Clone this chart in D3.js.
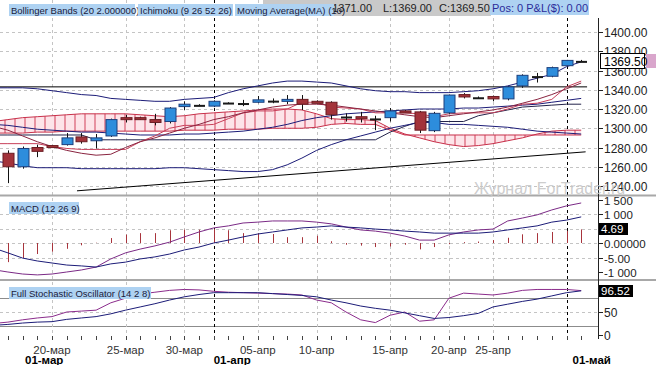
<!DOCTYPE html>
<html>
<head>
<meta charset="utf-8">
<script src="https://cdnjs.cloudflare.com/ajax/libs/d3/7.8.5/d3.min.js"></script>
<style>
body { margin: 0; background: #fff; }
svg { display: block; font-family: "Liberation Sans", Arial, sans-serif; }
</style>
</head>
<body>
<div id="chart"></div>
<script>
// bars (sunday sessions included, like the terminal shows them); first one sits just left of the frame
var dates = ["15-мар","16-мар","17-мар","18-мар","20-мар","21-мар","22-мар","23-мар","24-мар","25-мар","27-мар",
  "28-мар","29-мар","30-мар","31-мар","01-апр","03-апр","04-апр","05-апр","06-апр","07-апр",
  "08-апр","10-апр","11-апр","12-апр","13-апр","14-апр","15-апр","17-апр","18-апр","19-апр",
  "20-апр","21-апр","24-апр","25-апр","26-апр","27-апр","28-апр","29-апр","01-май","02-май"];

var open  = [1290,1274,1260,1280,1282,1283,1291,1287,1292,1311,1311,1309,1307,1322.5,1324,1323,1326.5,1326,1327,1328.5,1328,
  1330,1328,1327,1312,1312,1310,1311,1318,1317,1297.5,1316,1335,1332,1333,1330.5,1344,1354,1354,1365,1370];
var high  = [1296,1277,1281,1283,1282.5,1295,1295,1294,1310,1314,1312,1315,1322,1328,1325,1329,1327,1329.5,1333.5,1331,1334.5,
  1334.5,1329,1328,1315.5,1317,1313,1321,1319,1318,1317,1335,1336.5,1333,1334,1344,1356,1357.5,1364,1371,1371];
var low   = [1262,1243,1258,1270,1280.5,1282,1284,1279,1291,1306,1309,1303,1305,1319,1323,1322,1326,1323,1326,1326,1325,
  1319,1326,1309,1307,1306,1298,1307,1316,1295,1296,1315,1331,1331,1328,1329,1342,1347.5,1353,1364.5,1369];
var close = [1280,1260,1279,1276,1281,1290,1286,1290,1309,1309.5,1309.5,1306,1321,1325,1324.3,1328,1326.7,1326.2,1329.5,1328.7,1330,
  1325,1327,1314,1312.2,1310,1310.2,1318,1317,1298,1315.5,1334.5,1332.5,1332.2,1330.5,1343,1355,1354.2,1363,1370.5,1369.5];

// Bollinger Bands (20 2)
var bbUpper = [1342,1342,1342,1341,1339,1337,1335,1334,1331,1330,1329,1328,1328,1330,1331,1332,1337,1341,1344,1347,1349,
  1349,1348,1347,1344,1341,1339,1338,1338,1337,1337,1337,1338,1339,1341,1344,1348,1352,1356,1364,1369];
var bbMid   = [1304,1303,1301,1299,1298,1297,1296,1296,1295,1294,1293,1293,1293,1294,1294,1295,1296,1297,1299,1301,1304,
  1308,1311,1313,1315,1316,1317,1318,1319,1320,1320,1320,1321,1321,1322,1323,1324,1325,1327,1329,1331];
var bbLower = [1266,1264,1261,1259,1259,1259,1258,1258,1258,1258,1258,1258,1259,1259,1258,1257,1256,1255,1255,1257,1262,
  1269,1277,1283,1288,1292,1296,1300,1303,1306,1306,1304,1304,1303,1302,1301,1299,1297,1296,1295,1294];
// Moving Average (10)
var ma10 = [1302,1298,1292,1286,1281,1277,1274,1272,1273,1280,1286,1290,1295,1300,1304,1309,1312,1316,1319,1322,1324,
  1325,1325,1324,1322,1320,1318,1316,1314,1312,1311,1313,1315,1317,1319,1322,1326,1330,1335,1341,1347];
// Ichimoku: tenkan, kijun, cloud
var tenkan = [1284,1284,1284,1284,1281,1279,1278,1278,1278,1278,1286,1292,1300,1303,1303,1304,1310,1316,1318,1318,1320,
  1327,1327,1322,1321,1320,1316,1316,1316,1315,1312,1315,1316,1316,1316,1320,1325,1326,1330,1343,1349];
var kijun  = [1293,1293,1293,1293,1293,1293,1293,1288,1288,1288,1288,1288,1288,1288,1288,1288,1288,1288,1288,1288,1288,
  1288,1288,1288,1288,1288,1288,1296,1302,1307,1307,1307,1307,1313,1316,1319,1322,1323,1324,1325,1325];
var spanA = [1307,1309,1311,1312,1313,1314,1315,1315,1315,1315,1314,1313,1312,1313,1315,1316,1317,1318,1319,1320,1320,
  1319,1315,1310,1309,1309,1308,1300,1294,1290,1286,1283,1281,1282,1284,1287,1290,1294,1297,1298,1298];
var spanB = [1295,1295,1295,1296,1296,1297,1297,1297,1297,1297,1297,1297,1297,1298,1298,1298,1299,1299,1299,1300,1300,
  1300,1301,1304,1305,1304,1304,1298,1293,1293,1293,1293,1293,1293,1293,1293,1293,1293,1293,1293,1293];
// drawn lines
var levelLine = [{i: 0, v: 1343}, {i: 40.4, v: 1343}];
var trendLine = [{i: 5.7, v: 1235}, {i: 40.3, v: 1275.5}];

// MACD (12 26 9)
var macd   = [-9.2,-10,-10.7,-11,-10.7,-10,-9.3,-8.3,-5.5,-3.4,-2.1,-1,0.3,2.1,3.8,5.2,5.9,6.9,7.2,7.6,7.6,
  7.6,7.2,6.6,5.5,4.5,4.1,3.4,2.4,1,1,2.8,3.8,4.5,4.8,7.6,8.6,9.7,11.4,12.8,13.8];
var signal = [-1.7,-3.4,-5.2,-6.2,-6.9,-7.6,-7.9,-8.3,-7.2,-6.6,-5.5,-4.8,-3.8,-2.4,-1.4,0,1,2.1,3.1,3.8,4.5,
  5.2,5.5,5.9,5.5,5.2,4.8,4.5,4.1,3.8,3.4,3.4,3.4,3.4,3.8,4.5,5.2,5.9,7.2,7.9,9];
var hist   = [-7.5,-6.6,-5.2,-3.8,-3,-2,-0.8,0.1,1.7,2.9,3.4,3.4,4.4,4.6,4.6,4.8,4.4,3.4,3.4,3.1,2,
  2,2.5,0.6,-0.6,-0.9,-1.4,-1.2,-0.6,-2.2,-1.4,-0.4,0.3,0.5,1,1.8,3,3.4,3.8,4.2,4.69];

// Full Stochastic (14 2 8)
var stochK = [25,28,33,37,40,50,52,54,70,80,89,93,97,99,98,95,93,92,91,90,89,
  87,76,70,50,33,27,43,50,30,33,80,91,89,87,91,97,99,99,99,96.52];
var stochD = [21,23,26,28,29,34,37,40,46,54,61,68,76,83,88,92,92,92,92,90,88,
  86,83,76,70,63,58,54,48,42,36,38,42,47,61,67,73,78,85,92,96];

// axis labels
var priceTicks = [1240,1260,1280,1300,1320,1340,1360,1380,1400];
var priceLabels = ["1240.00","1260.00","1280.00","1300.00","1320.00","1340.00","1360.00","1380.00","1400.00"];
var macdTicks = [15,10,0,-5,-10];
var macdLabels = ["1 500","1 000","0.00000","-5.00","-1 000"];
var stochTicks = [50,0];
var stochLabels = ["50","0"];
var dayLabels = ["20-мар","25-мар","30-мар","05-апр","10-апр","15-апр","20-апр","25-апр"];
var monthDates = ["01-апр","01-май"];

var W = 656, H = 365, plotRight = 598;

var svg = d3.select("#chart").append("svg")
  .attr("width", W)
  .attr("height", H);

var defs = svg.append("defs");
defs.append("clipPath").attr("id", "plotClip")
  .append("rect").attr("x", 0).attr("y", 0).attr("width", plotRight).attr("height", H);
var hatch = defs.append("pattern").attr("id", "hatch")
  .attr("patternUnits", "userSpaceOnUse").attr("width", 10).attr("height", 10);
hatch.append("rect").attr("width", 10).attr("height", 10).attr("fill", "#fde4e9");
hatch.append("line").attr("x1", 5).attr("x2", 5).attr("y1", 0).attr("y2", 10)
  .attr("stroke", "#d2405a").attr("stroke-width", 1);

// scales
var x = d3.scaleLinear().domain([0, dates.length - 1]).range([-6.8, 581.2]);
var yP = d3.scaleLinear().domain([1240, 1400]).range([186, 32]);
var yM = d3.scaleLinear().domain([-10, 15]).range([272, 199.5]);
var yS = d3.scaleLinear().domain([0, 100]).range([335, 289]);

var plot = svg.append("g").attr("clip-path", "url(#plotClip)");

// horizontal grid
plot.selectAll(".gp").data(priceTicks).enter().append("line")
  .attr("x1", 0).attr("x2", plotRight)
  .attr("y1", d => Math.round(yP(d)) + 0.5).attr("y2", d => Math.round(yP(d)) + 0.5)
  .attr("stroke", "#c4c4c4").attr("stroke-dasharray", "3,3");
plot.selectAll(".gm").data([10, 5, 0, -5]).enter().append("line")
  .attr("x1", 0).attr("x2", plotRight)
  .attr("y1", d => Math.round(yM(d)) + 0.5).attr("y2", d => Math.round(yM(d)) + 0.5)
  .attr("stroke", "#c4c4c4").attr("stroke-dasharray", "3,3");
plot.append("line").attr("x1", 0).attr("x2", plotRight)
  .attr("y1", Math.round(yS(50)) + 0.5).attr("y2", Math.round(yS(50)) + 0.5)
  .attr("stroke", "#c4c4c4").attr("stroke-dasharray", "3,3");
plot.selectAll(".gs").data([80, 20]).enter().append("line")
  .attr("x1", 0).attr("x2", plotRight)
  .attr("y1", d => Math.round(yS(d)) + 0.5).attr("y2", d => Math.round(yS(d)) + 0.5)
  .attr("stroke", "#8c8c8c");

// vertical grid
plot.selectAll(".gv").data(dayLabels).enter().append("line")
  .attr("x1", d => Math.round(x(dates.indexOf(d))) + 0.5)
  .attr("x2", d => Math.round(x(dates.indexOf(d))) + 0.5)
  .attr("y1", 0).attr("y2", 337)
  .attr("stroke", "#c4c4c4").attr("stroke-dasharray", "3,3");
plot.selectAll(".gmon").data(monthDates).enter().append("line")
  .attr("x1", d => Math.round(x(dates.indexOf(d))) + 0.5)
  .attr("x2", d => Math.round(x(dates.indexOf(d))) + 0.5)
  .attr("y1", 0).attr("y2", 339)
  .attr("stroke", "#000").attr("stroke-dasharray", "3,3");

// ichimoku cloud
var idx = d3.range(dates.length);
var cloud = d3.area()
  .x(i => x(i))
  .y0(i => yP(spanA[i]))
  .y1(i => yP(spanB[i]));
plot.append("path").datum(idx).attr("d", cloud).attr("fill", "url(#hatch)");

function seriesLine(arr) {
  return d3.line().x((d, i) => x(i)).y(d => yP(d))(arr);
}
plot.append("path").attr("d", seriesLine(spanA)).attr("fill", "none").attr("stroke", "#c8304a");
plot.append("path").attr("d", seriesLine(spanB)).attr("fill", "none").attr("stroke", "#c8304a");

// straight drawn lines
var straight = d3.line().x(d => x(d.i)).y(d => yP(d.v));
plot.append("path").attr("d", straight(levelLine)).attr("stroke", "#000").attr("fill", "none");
plot.append("path").attr("d", straight(trendLine)).attr("stroke", "#000").attr("fill", "none");

// kijun / tenkan / bollinger / ma
plot.append("path").attr("d", seriesLine(kijun)).attr("fill", "none").attr("stroke", "#23234a");
[bbUpper, bbMid, bbLower].forEach(function(s) {
  plot.append("path").attr("d", seriesLine(s)).attr("fill", "none").attr("stroke", "#1c1c78");
});
plot.append("path").attr("d", seriesLine(tenkan)).attr("fill", "none").attr("stroke", "#c8405a");
plot.append("path").attr("d", seriesLine(ma10)).attr("fill", "none").attr("stroke", "#8a2440");

// candles
var candles = plot.selectAll(".candle").data(idx).enter().append("g");
candles.append("line")
  .attr("x1", i => Math.round(x(i)) + 0.5).attr("x2", i => Math.round(x(i)) + 0.5)
  .attr("y1", i => yP(high[i])).attr("y2", i => yP(low[i]))
  .attr("stroke", "#111");
candles.append("rect")
  .attr("x", i => Math.round(x(i)) - 5)
  .attr("width", 11)
  .attr("y", i => yP(Math.max(open[i], close[i])))
  .attr("height", i => Math.max(2, Math.abs(yP(open[i]) - yP(close[i]))))
  .attr("fill", function(i) {
    var d = close[i] - open[i];
    if (Math.abs(d) < 0.6) return "#1a1a1a";
    return d > 0 ? "#2d8ddc" : "#a3333a";
  })
  .attr("stroke", function(i) {
    var d = close[i] - open[i];
    if (Math.abs(d) < 0.6) return "none";
    return d > 0 ? "#1d3f7c" : "#6a1c22";
  });

// MACD
plot.selectAll(".hb").data(idx).enter().append("line")
  .attr("x1", i => Math.round(x(i)) + 0.5).attr("x2", i => Math.round(x(i)) + 0.5)
  .attr("y1", yM(0)).attr("y2", i => yM(hist[i]))
  .attr("stroke", "#a8343c");
plot.append("path").attr("d", d3.line().x((d, i) => x(i)).y(d => yM(d))(macd))
  .attr("fill", "none").attr("stroke", "#7b2a86");
plot.append("path").attr("d", d3.line().x((d, i) => x(i)).y(d => yM(d))(signal))
  .attr("fill", "none").attr("stroke", "#1c1c78");

// stochastic
plot.append("path").attr("d", d3.line().x((d, i) => x(i)).y(d => yS(d))(stochK))
  .attr("fill", "none").attr("stroke", "#8b2c8c");
plot.append("path").attr("d", d3.line().x((d, i) => x(i)).y(d => yS(d))(stochD))
  .attr("fill", "none").attr("stroke", "#1c1c78");

// panel separators
[194.5, 279].forEach(function(y) {
  svg.append("rect").attr("x", 0).attr("y", y).attr("width", W).attr("height", 2).attr("fill", "#a8a8a8");
});

// right axis
var axisG = svg.append("g").attr("font-size", 12).attr("fill", "#222");
axisG.append("line").attr("x1", plotRight + 0.5).attr("x2", plotRight + 0.5)
  .attr("y1", 18).attr("y2", 339).attr("stroke", "#222");
priceTicks.forEach(function(t, k) {
  var yy = Math.round(yP(t)) + 0.5;
  axisG.append("line").attr("x1", plotRight).attr("x2", plotRight + 5).attr("y1", yy).attr("y2", yy).attr("stroke", "#222");
  axisG.append("text").attr("x", 604).attr("y", yy + 4).text(priceLabels[k]);
});
macdTicks.forEach(function(t, k) {
  var yy = Math.round(yM(t)) + 0.5;
  axisG.append("line").attr("x1", plotRight).attr("x2", plotRight + 5).attr("y1", yy).attr("y2", yy).attr("stroke", "#222");
  axisG.append("text").attr("x", 604).attr("y", yy + 4).attr("font-size", 11.5).text(macdLabels[k]);
});
stochTicks.forEach(function(t, k) {
  var yy = Math.round(yS(t)) + 0.5;
  axisG.append("line").attr("x1", plotRight).attr("x2", plotRight + 5).attr("y1", yy).attr("y2", yy).attr("stroke", "#222");
  axisG.append("text").attr("x", 604).attr("y", yy + 4).text(stochLabels[k]);
});

// watermark
svg.append("text").attr("x", 474).attr("y", 194)
  .attr("font-size", 16).attr("fill", "#c6c6c6").attr("fill-opacity", 0.9)
  .text("Журнал ForTrader.ru");

// current value boxes
var last = close.length - 1;
svg.append("rect").attr("x", 600.5).attr("y", Math.round(yP(close[last])) - 7.5)
  .attr("width", 44).attr("height", 15).attr("fill", "#fff").attr("stroke", "#000");
svg.append("rect").attr("x", 646).attr("y", Math.round(yP(close[last])) - 7)
  .attr("width", 10).attr("height", 14).attr("fill", "#d9a6cc");
svg.append("text").attr("x", 604).attr("y", Math.round(yP(close[last])) + 4.5)
  .attr("font-size", 12).attr("fill", "#000").text(close[last].toFixed(2));

svg.append("rect").attr("x", 599).attr("y", Math.round(yM(hist[last])) - 6)
  .attr("width", 29).attr("height", 12).attr("fill", "#000");
svg.append("text").attr("x", 601).attr("y", Math.round(yM(hist[last])) + 4)
  .attr("font-size", 11.5).attr("fill", "#fff").text(hist[last].toFixed(2));

svg.append("rect").attr("x", 599).attr("y", Math.round(yS(stochK[last])) - 6)
  .attr("width", 34).attr("height", 12).attr("fill", "#000");
svg.append("text").attr("x", 601).attr("y", Math.round(yS(stochK[last])) + 4)
  .attr("font-size", 11.5).attr("fill", "#fff").text(stochK[last].toFixed(2));

// bottom axis
svg.selectAll(".tk").data(idx.slice(1)).enter().append("line")
  .attr("x1", i => Math.round(x(i)) + 0.5).attr("x2", i => Math.round(x(i)) + 0.5)
  .attr("y1", 336).attr("y2", 340).attr("stroke", "#444");
svg.selectAll(".dl").data(dayLabels).enter().append("text")
  .attr("x", d => x(dates.indexOf(d)))
  .attr("y", 354).attr("text-anchor", "middle")
  .attr("font-size", 11.5).attr("fill", "#333")
  .text(d => d);
svg.append("text").attr("x", 25).attr("y", 364).attr("font-size", 11.5)
  .attr("font-weight", "bold").text("01-мар");
svg.selectAll(".ml").data(monthDates).enter().append("text")
  .attr("x", (d, k) => x(dates.indexOf(d)) + (k === 0 ? 0 : 6))
  .attr("y", 364).attr("font-size", 11.5).attr("font-weight", "bold")
  .text(d => d);

// header legends
function tag(xp, yp, w, txt, color) {
  svg.append("rect").attr("x", xp).attr("y", yp).attr("width", w).attr("height", 12).attr("fill", "#aed2f2");
  svg.append("text").attr("x", xp + 2).attr("y", yp + 10).attr("font-size", 9.5)
    .attr("fill", color || "#1a1a3a").text(txt);
}
svg.append("rect").attr("x", 263).attr("y", 0).attr("width", 228).attr("height", 16).attr("fill", "#c9c9c9");
svg.append("text").attr("x", 372).attr("y", 12).attr("text-anchor", "end").attr("font-size", 11).attr("fill", "#222").text("H:1371.00");
svg.append("text").attr("x", 383).attr("y", 12).attr("font-size", 11).attr("fill", "#222").text("L:1369.00");
svg.append("text").attr("x", 439).attr("y", 12).attr("font-size", 11).attr("fill", "#222").text("C:1369.50");
tag(9, 4, 126, "Bollinger Bands (20 2.000000)");
tag(138, 4, 95, "Ichimoku (9 26 52 26)");
tag(235, 4, 99, "Moving Average(MA) (10)");
svg.append("rect").attr("x", 490).attr("y", 0).attr("width", 99).attr("height", 15).attr("fill", "#aed2f2");
svg.append("text").attr("x", 492).attr("y", 12).attr("font-size", 11).attr("fill", "#2b2b9a").text("Pos: 0 P&L($): 0.00");
tag(9, 202, 70, "MACD (12 26 9)");
tag(9, 287, 142, "Full Stochastic Oscillator (14 2 8)");
</script>
</body>
</html>
